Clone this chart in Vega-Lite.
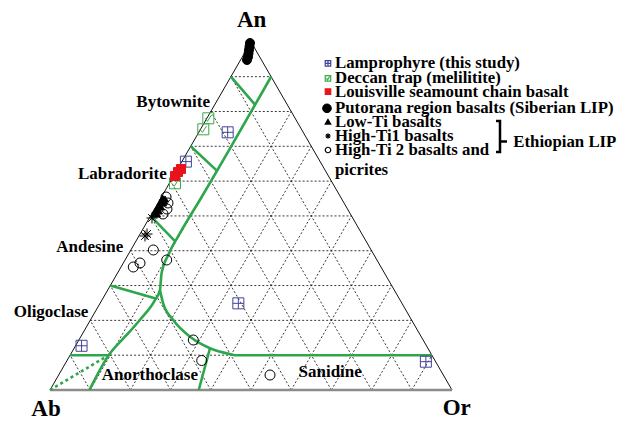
{
  "$schema": "https://vega.github.io/schema/vega-lite/v6.json",
  "width": 625,
  "height": 422,
  "autosize": {"type": "none"},
  "padding": 0,
  "background": "white",
  "config": {
    "view": {"stroke": null},
    "legend": {"disable": true}
  },
  "datasets": {
    "grid": [
      {"x": 5, "y": 8.66, "x2": 95, "y2": 8.66},
      {"x": 10, "y": 17.32, "x2": 90, "y2": 17.32},
      {"x": 15, "y": 25.98, "x2": 85, "y2": 25.98},
      {"x": 20, "y": 34.64, "x2": 80, "y2": 34.64},
      {"x": 25, "y": 43.3, "x2": 75, "y2": 43.3},
      {"x": 30, "y": 51.96, "x2": 70, "y2": 51.96},
      {"x": 35, "y": 60.62, "x2": 65, "y2": 60.62},
      {"x": 40, "y": 69.28, "x2": 60, "y2": 69.28},
      {"x": 45, "y": 77.94, "x2": 55, "y2": 77.94},
      {"x": 10, "y": 0, "x2": 55, "y2": 77.94},
      {"x": 20, "y": 0, "x2": 60, "y2": 69.28},
      {"x": 30, "y": 0, "x2": 65, "y2": 60.62},
      {"x": 40, "y": 0, "x2": 70, "y2": 51.96},
      {"x": 50, "y": 0, "x2": 75, "y2": 43.3},
      {"x": 60, "y": 0, "x2": 80, "y2": 34.64},
      {"x": 70, "y": 0, "x2": 85, "y2": 25.98},
      {"x": 80, "y": 0, "x2": 90, "y2": 17.32},
      {"x": 90, "y": 0, "x2": 95, "y2": 8.66},
      {"x": 90, "y": 0, "x2": 45, "y2": 77.94},
      {"x": 80, "y": 0, "x2": 40, "y2": 69.28},
      {"x": 70, "y": 0, "x2": 35, "y2": 60.62},
      {"x": 60, "y": 0, "x2": 30, "y2": 51.96},
      {"x": 50, "y": 0, "x2": 25, "y2": 43.3},
      {"x": 40, "y": 0, "x2": 20, "y2": 34.64},
      {"x": 30, "y": 0, "x2": 15, "y2": 25.98},
      {"x": 20, "y": 0, "x2": 10, "y2": 17.32},
      {"x": 10, "y": 0, "x2": 5, "y2": 8.66}
    ],
    "edges": [
      {"x": 0, "y": 0, "x2": 50, "y2": 86.6},
      {"x": 100, "y": 0, "x2": 50, "y2": 86.6}
    ],
    "base": [
      {"x": 0, "y": 0, "x2": 100, "y2": 0}
    ],
    "green": [
      {"s": "plag", "o": 1, "x": 9.8, "y": 0},
      {"s": "plag", "o": 2, "x": 14.6, "y": 8.66},
      {"s": "plag", "o": 3, "x": 18.65, "y": 13.25},
      {"s": "plag", "o": 4, "x": 22.35, "y": 17.41},
      {"s": "plag", "o": 5, "x": 26.15, "y": 22.43},
      {"s": "plag", "o": 6, "x": 27.35, "y": 24.85},
      {"s": "plag", "o": 7, "x": 27.75, "y": 29.01},
      {"s": "plag", "o": 8, "x": 29.5, "y": 33.77},
      {"s": "plag", "o": 9, "x": 32.3, "y": 38.97},
      {"s": "plag", "o": 10, "x": 37.5, "y": 47.63},
      {"s": "plag", "o": 11, "x": 55, "y": 77.94},
      {"s": "alk", "o": 1, "x": 27.35, "y": 24.85},
      {"s": "alk", "o": 2, "x": 28.15, "y": 21.56},
      {"s": "alk", "o": 3, "x": 30.65, "y": 17.41},
      {"s": "alk", "o": 4, "x": 34.85, "y": 13.25},
      {"s": "alk", "o": 5, "x": 39.8, "y": 10.39},
      {"s": "alk", "o": 6, "x": 44.75, "y": 8.92},
      {"s": "alk", "o": 7, "x": 46, "y": 8.66},
      {"s": "alk", "o": 8, "x": 95, "y": 8.66},
      {"s": "byt", "o": 1, "x": 45, "y": 77.94},
      {"s": "byt", "o": 2, "x": 51, "y": 71.01},
      {"s": "lab", "o": 1, "x": 35, "y": 60.62},
      {"s": "lab", "o": 2, "x": 41.5, "y": 54.56},
      {"s": "and", "o": 1, "x": 25, "y": 43.3},
      {"s": "and", "o": 2, "x": 31.2, "y": 36.89},
      {"s": "oli", "o": 1, "x": 15, "y": 25.98},
      {"s": "oli", "o": 2, "x": 26.3, "y": 22.78},
      {"s": "ano", "o": 1, "x": 5, "y": 8.66},
      {"s": "ano", "o": 2, "x": 14.6, "y": 8.66},
      {"s": "san", "o": 1, "x": 37, "y": 0},
      {"s": "san", "o": 2, "x": 39.8, "y": 10.39}
    ],
    "dotted": [
      {"s": "d", "o": 1, "x": 0, "y": 0},
      {"s": "d", "o": 2, "x": 14.6, "y": 8.66}
    ],
    "pts": [
      {"g": "Lamprophyre (this study)", "x": 44.2, "y": 64.1},
      {"g": "Lamprophyre (this study)", "x": 33.8, "y": 56.81},
      {"g": "Lamprophyre (this study)", "x": 46.85, "y": 21.56},
      {"g": "Lamprophyre (this study)", "x": 7.85, "y": 11.0},
      {"g": "Lamprophyre (this study)", "x": 93.5, "y": 7.04},
      {"g": "Deccan trap (melilitite)", "x": 39.38, "y": 67.59},
      {"g": "Deccan trap (melilitite)", "x": 38.13, "y": 64.85},
      {"g": "Deccan trap (melilitite)", "x": 31.09, "y": 51.42},
      {"g": "Louisville seamount chain basalt", "x": 32.59, "y": 54.98},
      {"g": "Louisville seamount chain basalt", "x": 31.84, "y": 54.23},
      {"g": "Louisville seamount chain basalt", "x": 31.09, "y": 53.23},
      {"g": "Putorana region basalts (Siberian LIP)", "x": 49.75, "y": 86.32},
      {"g": "Putorana region basalts (Siberian LIP)", "x": 49.63, "y": 85.45},
      {"g": "Putorana region basalts (Siberian LIP)", "x": 49.5, "y": 84.58},
      {"g": "Putorana region basalts (Siberian LIP)", "x": 49.38, "y": 83.71},
      {"g": "Putorana region basalts (Siberian LIP)", "x": 49.25, "y": 82.84},
      {"g": "Putorana region basalts (Siberian LIP)", "x": 49.0, "y": 82.09},
      {"g": "Low-Ti basalts", "x": 27.99, "y": 47.76},
      {"g": "Low-Ti basalts", "x": 28.61, "y": 47.51},
      {"g": "Low-Ti basalts", "x": 27.49, "y": 46.77},
      {"g": "Low-Ti basalts", "x": 28.11, "y": 46.52},
      {"g": "Low-Ti basalts", "x": 26.99, "y": 45.77},
      {"g": "Low-Ti basalts", "x": 27.61, "y": 45.52},
      {"g": "Low-Ti basalts", "x": 26.37, "y": 44.78},
      {"g": "Low-Ti basalts", "x": 27.11, "y": 44.53},
      {"g": "Low-Ti basalts", "x": 25.87, "y": 43.78},
      {"g": "Low-Ti basalts", "x": 26.62, "y": 43.78},
      {"g": "Low-Ti basalts", "x": 28.36, "y": 47.01},
      {"g": "Low-Ti basalts", "x": 27.36, "y": 45.77},
      {"g": "High-Ti1 basalts", "x": 24.13, "y": 38.81},
      {"g": "High-Ti1 basalts", "x": 23.63, "y": 38.31},
      {"g": "High-Ti1 basalts", "x": 25.37, "y": 42.79},
      {"g": "High-Ti 2 basalts and picrites", "x": 28.86, "y": 48.01},
      {"g": "High-Ti 2 basalts and picrites", "x": 29.35, "y": 46.52},
      {"g": "High-Ti 2 basalts and picrites", "x": 29.1, "y": 45.02},
      {"g": "High-Ti 2 basalts and picrites", "x": 28.11, "y": 43.78},
      {"g": "High-Ti 2 basalts and picrites", "x": 25.7, "y": 34.83},
      {"g": "High-Ti 2 basalts and picrites", "x": 22.39, "y": 31.59},
      {"g": "High-Ti 2 basalts and picrites", "x": 20.72, "y": 30.6},
      {"g": "High-Ti 2 basalts and picrites", "x": 29.03, "y": 32.34},
      {"g": "High-Ti 2 basalts and picrites", "x": 35.65, "y": 12.44},
      {"g": "High-Ti 2 basalts and picrites", "x": 37.74, "y": 7.34},
      {"g": "High-Ti 2 basalts and picrites", "x": 54.73, "y": 3.73}
    ],
    "key": [
      {"g": "Lamprophyre (this study)", "t": "Lamprophyre (this study)", "x": 69.15, "y": 81.27},
      {"g": "Deccan trap (melilitite)", "t": "Deccan trap (melilitite)", "x": 69.15, "y": 77.54},
      {"g": "Louisville seamount chain basalt", "t": "Louisville seamount chain basalt", "x": 69.15, "y": 74.21},
      {"g": "Putorana region basalts (Siberian LIP)", "t": "Putorana region basalts (Siberian LIP)", "x": 68.9, "y": 70.07},
      {"g": "Low-Ti basalts", "t": "Low-Ti basalts", "x": 69.15, "y": 66.74},
      {"g": "High-Ti1 basalts", "t": "High-Ti1 basalts", "x": 69.15, "y": 63.18},
      {"g": "High-Ti 2 basalts and picrites", "t": "High-Ti 2 basalts and", "x": 69.15, "y": 59.7}
    ],
    "keyText": [
      {"t": "Lamprophyre (this study)", "x": 70.9, "y": 81.27},
      {"t": "Deccan trap (melilitite)", "x": 70.9, "y": 77.54},
      {"t": "Louisville seamount chain basalt", "x": 70.9, "y": 74.21},
      {"t": "Putorana region basalts (Siberian LIP)", "x": 70.9, "y": 70.07},
      {"t": "Low-Ti basalts", "x": 70.9, "y": 66.74},
      {"t": "High-Ti1 basalts", "x": 70.9, "y": 63.18},
      {"t": "High-Ti 2 basalts and", "x": 70.9, "y": 59.7},
      {"t": "picrites", "x": 70.9, "y": 54.73},
      {"t": "Ethiopian LIP", "x": 115.25, "y": 61.77}
    ],
    "vertex": [
      {"t": "An", "x": 50.17, "y": 92.04},
      {"t": "Ab", "x": -1.0, "y": -4.73},
      {"t": "Or", "x": 101.17, "y": -4.48}
    ],
    "fieldsRight": [
      {"t": "Bytownite", "x": 39.8, "y": 71.72},
      {"t": "Labradorite", "x": 29.03, "y": 53.73},
      {"t": "Andesine", "x": 18.23, "y": 35.57},
      {"t": "Oligoclase", "x": 9.53, "y": 19.4}
    ],
    "fieldsLeft": [
      {"t": "Anorthoclase", "x": 12.86, "y": 3.73},
      {"t": "Sanidine", "x": 61.82, "y": 4.48}
    ],
    "bracket": [
      {"s": "b", "o": 1, "x": 110.95, "y": 66.92},
      {"s": "b", "o": 2, "x": 111.94, "y": 66.92},
      {"s": "b", "o": 3, "x": 111.94, "y": 59.2},
      {"s": "b", "o": 4, "x": 110.95, "y": 59.2},
      {"s": "m", "o": 1, "x": 111.94, "y": 61.82},
      {"s": "m", "o": 2, "x": 113.68, "y": 61.82}
    ]
  },
  "encoding": {
    "x": {"field": "x", "type": "quantitative", "scale": {"domain": [-12.438, 143.035], "nice": false, "zero": false}, "axis": null},
    "y": {"field": "y", "type": "quantitative", "scale": {"domain": [-7.96, 97.015], "nice": false, "zero": false}, "axis": null}
  },
  "layer": [
    {
      "data": {"name": "grid"},
      "mark": {"type": "rule", "strokeDash": [2, 2], "color": "#222222", "strokeWidth": 0.9},
      "encoding": {"x2": {"field": "x2"}, "y2": {"field": "y2"}}
    },
    {
      "data": {"name": "edges"},
      "mark": {"type": "rule", "color": "#111111", "strokeWidth": 1},
      "encoding": {"x2": {"field": "x2"}, "y2": {"field": "y2"}}
    },
    {
      "data": {"name": "base"},
      "mark": {"type": "rule", "color": "#8c8c8c", "strokeWidth": 2.5},
      "encoding": {"x2": {"field": "x2"}, "y2": {"field": "y2"}}
    },
    {
      "data": {"name": "green"},
      "mark": {"type": "line", "color": "#2ea64c", "strokeWidth": 2.6, "interpolate": "monotone"},
      "encoding": {"detail": {"field": "s", "type": "nominal"}, "order": {"field": "o", "type": "quantitative"}}
    },
    {
      "data": {"name": "dotted"},
      "mark": {"type": "line", "color": "#2ea64c", "strokeWidth": 2.6, "strokeDash": [3, 3]},
      "encoding": {"detail": {"field": "s", "type": "nominal"}, "order": {"field": "o", "type": "quantitative"}}
    },
    {
      "data": {"name": "pts"},
      "transform": [{"filter": {"field": "g", "oneOf": ["Lamprophyre (this study)", "Deccan trap (melilitite)", "High-Ti1 basalts"]}}],
      "mark": {"type": "point", "size": 121, "strokeWidth": 1, "opacity": 1, "fillOpacity": 1, "strokeOpacity": 1},
      "encoding": {
        "shape": {"field": "g", "type": "nominal", "scale": {"domain": ["Lamprophyre (this study)", "Deccan trap (melilitite)", "Louisville seamount chain basalt", "Putorana region basalts (Siberian LIP)", "Low-Ti basalts", "High-Ti1 basalts", "High-Ti 2 basalts and picrites"], "range": ["M-1,-1H1V1H-1Z M0,-1V1 M-1,0H1", "M-1,-1H1V1H-1Z M-0.6,0L-0.15,0.55L0.6,-0.6", "square", "circle", "triangle-up", "M0,-1V1 M-1,0H1 M-0.7,-0.7L0.7,0.7 M-0.7,0.7L0.7,-0.7", "circle"]}},
        "fill": {"field": "g", "type": "nominal", "scale": {"domain": ["Lamprophyre (this study)", "Deccan trap (melilitite)", "Louisville seamount chain basalt", "Putorana region basalts (Siberian LIP)", "Low-Ti basalts", "High-Ti1 basalts", "High-Ti 2 basalts and picrites"], "range": ["transparent", "transparent", "#e8141b", "#000000", "#000000", "transparent", "transparent"]}},
        "stroke": {"field": "g", "type": "nominal", "scale": {"domain": ["Lamprophyre (this study)", "Deccan trap (melilitite)", "Louisville seamount chain basalt", "Putorana region basalts (Siberian LIP)", "Low-Ti basalts", "High-Ti1 basalts", "High-Ti 2 basalts and picrites"], "range": ["#42429a", "#3aa845", "#e8141b", "#000000", "#000000", "#000000", "#000000"]}}
      }
    },
    {
      "data": {"name": "pts"},
      "transform": [{"filter": {"field": "g", "oneOf": ["Louisville seamount chain basalt", "Putorana region basalts (Siberian LIP)"]}}],
      "mark": {"type": "point", "size": 81, "strokeWidth": 1, "opacity": 1, "fillOpacity": 1, "strokeOpacity": 1},
      "encoding": {
        "shape": {"field": "g", "type": "nominal", "scale": {"domain": ["Lamprophyre (this study)", "Deccan trap (melilitite)", "Louisville seamount chain basalt", "Putorana region basalts (Siberian LIP)", "Low-Ti basalts", "High-Ti1 basalts", "High-Ti 2 basalts and picrites"], "range": ["M-1,-1H1V1H-1Z M0,-1V1 M-1,0H1", "M-1,-1H1V1H-1Z M-0.6,0L-0.15,0.55L0.6,-0.6", "square", "circle", "triangle-up", "M0,-1V1 M-1,0H1 M-0.7,-0.7L0.7,0.7 M-0.7,0.7L0.7,-0.7", "circle"]}},
        "fill": {"field": "g", "type": "nominal", "scale": {"domain": ["Lamprophyre (this study)", "Deccan trap (melilitite)", "Louisville seamount chain basalt", "Putorana region basalts (Siberian LIP)", "Low-Ti basalts", "High-Ti1 basalts", "High-Ti 2 basalts and picrites"], "range": ["transparent", "transparent", "#e8141b", "#000000", "#000000", "transparent", "transparent"]}},
        "stroke": {"field": "g", "type": "nominal", "scale": {"domain": ["Lamprophyre (this study)", "Deccan trap (melilitite)", "Louisville seamount chain basalt", "Putorana region basalts (Siberian LIP)", "Low-Ti basalts", "High-Ti1 basalts", "High-Ti 2 basalts and picrites"], "range": ["#42429a", "#3aa845", "#e8141b", "#000000", "#000000", "#000000", "#000000"]}}
      }
    },
    {
      "data": {"name": "pts"},
      "transform": [{"filter": {"field": "g", "oneOf": ["Low-Ti basalts"]}}],
      "mark": {"type": "point", "size": 49, "strokeWidth": 1, "opacity": 1, "fillOpacity": 1, "strokeOpacity": 1},
      "encoding": {
        "shape": {"field": "g", "type": "nominal", "scale": {"domain": ["Lamprophyre (this study)", "Deccan trap (melilitite)", "Louisville seamount chain basalt", "Putorana region basalts (Siberian LIP)", "Low-Ti basalts", "High-Ti1 basalts", "High-Ti 2 basalts and picrites"], "range": ["M-1,-1H1V1H-1Z M0,-1V1 M-1,0H1", "M-1,-1H1V1H-1Z M-0.6,0L-0.15,0.55L0.6,-0.6", "square", "circle", "triangle-up", "M0,-1V1 M-1,0H1 M-0.7,-0.7L0.7,0.7 M-0.7,0.7L0.7,-0.7", "circle"]}},
        "fill": {"field": "g", "type": "nominal", "scale": {"domain": ["Lamprophyre (this study)", "Deccan trap (melilitite)", "Louisville seamount chain basalt", "Putorana region basalts (Siberian LIP)", "Low-Ti basalts", "High-Ti1 basalts", "High-Ti 2 basalts and picrites"], "range": ["transparent", "transparent", "#e8141b", "#000000", "#000000", "transparent", "transparent"]}},
        "stroke": {"field": "g", "type": "nominal", "scale": {"domain": ["Lamprophyre (this study)", "Deccan trap (melilitite)", "Louisville seamount chain basalt", "Putorana region basalts (Siberian LIP)", "Low-Ti basalts", "High-Ti1 basalts", "High-Ti 2 basalts and picrites"], "range": ["#42429a", "#3aa845", "#e8141b", "#000000", "#000000", "#000000", "#000000"]}}
      }
    },
    {
      "data": {"name": "pts"},
      "transform": [{"filter": {"field": "g", "oneOf": ["High-Ti 2 basalts and picrites"]}}],
      "mark": {"type": "point", "size": 100, "strokeWidth": 1, "opacity": 1, "fillOpacity": 1, "strokeOpacity": 1},
      "encoding": {
        "shape": {"field": "g", "type": "nominal", "scale": {"domain": ["Lamprophyre (this study)", "Deccan trap (melilitite)", "Louisville seamount chain basalt", "Putorana region basalts (Siberian LIP)", "Low-Ti basalts", "High-Ti1 basalts", "High-Ti 2 basalts and picrites"], "range": ["M-1,-1H1V1H-1Z M0,-1V1 M-1,0H1", "M-1,-1H1V1H-1Z M-0.6,0L-0.15,0.55L0.6,-0.6", "square", "circle", "triangle-up", "M0,-1V1 M-1,0H1 M-0.7,-0.7L0.7,0.7 M-0.7,0.7L0.7,-0.7", "circle"]}},
        "fill": {"field": "g", "type": "nominal", "scale": {"domain": ["Lamprophyre (this study)", "Deccan trap (melilitite)", "Louisville seamount chain basalt", "Putorana region basalts (Siberian LIP)", "Low-Ti basalts", "High-Ti1 basalts", "High-Ti 2 basalts and picrites"], "range": ["transparent", "transparent", "#e8141b", "#000000", "#000000", "transparent", "transparent"]}},
        "stroke": {"field": "g", "type": "nominal", "scale": {"domain": ["Lamprophyre (this study)", "Deccan trap (melilitite)", "Louisville seamount chain basalt", "Putorana region basalts (Siberian LIP)", "Low-Ti basalts", "High-Ti1 basalts", "High-Ti 2 basalts and picrites"], "range": ["#42429a", "#3aa845", "#e8141b", "#000000", "#000000", "#000000", "#000000"]}}
      }
    },
    {
      "data": {"name": "key"},
      "transform": [{"filter": {"field": "g", "oneOf": ["Lamprophyre (this study)", "Deccan trap (melilitite)", "Louisville seamount chain basalt", "Low-Ti basalts", "High-Ti1 basalts", "High-Ti 2 basalts and picrites"]}}],
      "mark": {"type": "point", "size": 30, "strokeWidth": 1.2, "opacity": 1, "fillOpacity": 1, "strokeOpacity": 1},
      "encoding": {
        "shape": {"field": "g", "type": "nominal", "scale": {"domain": ["Lamprophyre (this study)", "Deccan trap (melilitite)", "Louisville seamount chain basalt", "Putorana region basalts (Siberian LIP)", "Low-Ti basalts", "High-Ti1 basalts", "High-Ti 2 basalts and picrites"], "range": ["M-1,-1H1V1H-1Z M0,-1V1 M-1,0H1", "M-1,-1H1V1H-1Z M-0.6,0L-0.15,0.55L0.6,-0.6", "square", "circle", "triangle-up", "M0,-1V1 M-1,0H1 M-0.7,-0.7L0.7,0.7 M-0.7,0.7L0.7,-0.7", "circle"]}},
        "fill": {"field": "g", "type": "nominal", "scale": {"domain": ["Lamprophyre (this study)", "Deccan trap (melilitite)", "Louisville seamount chain basalt", "Putorana region basalts (Siberian LIP)", "Low-Ti basalts", "High-Ti1 basalts", "High-Ti 2 basalts and picrites"], "range": ["transparent", "transparent", "#e8141b", "#000000", "#000000", "transparent", "transparent"]}},
        "stroke": {"field": "g", "type": "nominal", "scale": {"domain": ["Lamprophyre (this study)", "Deccan trap (melilitite)", "Louisville seamount chain basalt", "Putorana region basalts (Siberian LIP)", "Low-Ti basalts", "High-Ti1 basalts", "High-Ti 2 basalts and picrites"], "range": ["#42429a", "#3aa845", "#e8141b", "#000000", "#000000", "#000000", "#000000"]}}
      }
    },
    {
      "data": {"name": "key"},
      "transform": [{"filter": {"field": "g", "oneOf": ["Putorana region basalts (Siberian LIP)"]}}],
      "mark": {"type": "point", "size": 75, "strokeWidth": 1, "opacity": 1, "fillOpacity": 1, "strokeOpacity": 1},
      "encoding": {
        "shape": {"field": "g", "type": "nominal", "scale": {"domain": ["Lamprophyre (this study)", "Deccan trap (melilitite)", "Louisville seamount chain basalt", "Putorana region basalts (Siberian LIP)", "Low-Ti basalts", "High-Ti1 basalts", "High-Ti 2 basalts and picrites"], "range": ["M-1,-1H1V1H-1Z M0,-1V1 M-1,0H1", "M-1,-1H1V1H-1Z M-0.6,0L-0.15,0.55L0.6,-0.6", "square", "circle", "triangle-up", "M0,-1V1 M-1,0H1 M-0.7,-0.7L0.7,0.7 M-0.7,0.7L0.7,-0.7", "circle"]}},
        "fill": {"field": "g", "type": "nominal", "scale": {"domain": ["Lamprophyre (this study)", "Deccan trap (melilitite)", "Louisville seamount chain basalt", "Putorana region basalts (Siberian LIP)", "Low-Ti basalts", "High-Ti1 basalts", "High-Ti 2 basalts and picrites"], "range": ["transparent", "transparent", "#e8141b", "#000000", "#000000", "transparent", "transparent"]}},
        "stroke": {"field": "g", "type": "nominal", "scale": {"domain": ["Lamprophyre (this study)", "Deccan trap (melilitite)", "Louisville seamount chain basalt", "Putorana region basalts (Siberian LIP)", "Low-Ti basalts", "High-Ti1 basalts", "High-Ti 2 basalts and picrites"], "range": ["#42429a", "#3aa845", "#e8141b", "#000000", "#000000", "#000000", "#000000"]}}
      }
    },
    {
      "data": {"name": "bracket"},
      "mark": {"type": "line", "color": "#000000", "strokeWidth": 2.5},
      "encoding": {"detail": {"field": "s", "type": "nominal"}, "order": {"field": "o", "type": "quantitative"}}
    },
    {
      "data": {"name": "vertex"},
      "mark": {"type": "text", "font": "Liberation Serif", "fontWeight": "bold", "fontSize": 23, "align": "center", "baseline": "middle", "color": "#000000"},
      "encoding": {"text": {"field": "t"}}
    },
    {
      "data": {"name": "fieldsRight"},
      "mark": {"type": "text", "font": "Liberation Serif", "fontWeight": "bold", "fontSize": 17, "align": "right", "baseline": "middle", "color": "#000000"},
      "encoding": {"text": {"field": "t"}}
    },
    {
      "data": {"name": "fieldsLeft"},
      "mark": {"type": "text", "font": "Liberation Serif", "fontWeight": "bold", "fontSize": 17, "align": "left", "baseline": "middle", "color": "#000000"},
      "encoding": {"text": {"field": "t"}}
    },
    {
      "data": {"name": "keyText"},
      "mark": {"type": "text", "font": "Liberation Serif", "fontWeight": "bold", "fontSize": 16.8, "align": "left", "baseline": "middle", "color": "#000000"},
      "encoding": {"text": {"field": "t"}}
    }
  ]
}
